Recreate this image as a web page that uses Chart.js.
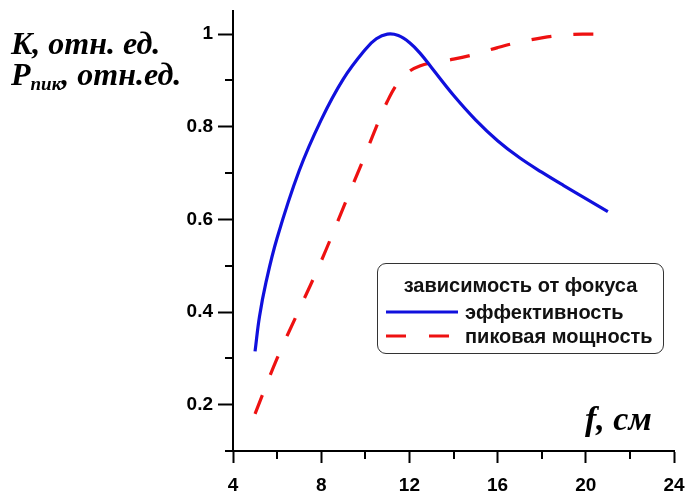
<!DOCTYPE html>
<html>
<head>
<meta charset="utf-8">
<script src="https://cdn.jsdelivr.net/npm/chart.js@4.4.1/dist/chart.umd.min.js"></script>
<style>
  html, body { margin: 0; padding: 0; background: #fff; }
  #wrap { position: relative; width: 687px; height: 492px; overflow: hidden; }
  #c { position: absolute; left: 0; top: 0; }
  .ytitle { position: absolute; left: 11px; font-family: "Liberation Serif", "Times New Roman", serif; font-weight: bold; font-style: italic; font-size: 32px; line-height: 1; color: #000; white-space: nowrap; }
  .ytitle sub { font-size: 19px; vertical-align: -5px; line-height: 0; }
  #xtitle { position: absolute; left: 585px; top: 402px; font-family: "Liberation Serif", "Times New Roman", serif; font-weight: bold; font-style: italic; font-size: 34px; line-height: 1; color: #000; white-space: nowrap; }
  #legend { position: absolute; left: 377px; top: 263px; width: 285px; height: 89px; border: 1.6px solid #333; border-radius: 9px; font-family: "Liberation Sans", Arial, sans-serif; font-weight: bold; font-size: 20px; color: #111; }
  #legend .t { position: absolute; left: 0; width: 100%; top: 10px; text-align: center; line-height: 22px; white-space: nowrap; }
  #legend .row { position: absolute; left: 0; height: 22px; line-height: 22px; white-space: nowrap; }
  #legend .row svg { position: absolute; left: 6px; top: 3px; }
  #legend .row span { position: absolute; left: 87px; top: 0; }
</style>
</head>
<body>
<div id="wrap">
  <canvas id="c" width="687" height="492"></canvas>
  <div class="ytitle" style="top:27px">K, отн. ед.</div>
  <div class="ytitle" style="top:58px">P<sub>пик</sub>, отн.ед.</div>
  <div id="xtitle">f, см</div>
  <div id="legend">
    <div class="t">зависимость от фокуса</div>
    <div class="row" style="top:37px"><svg width="80" height="16"><line x1="2" y1="8" x2="74" y2="8" stroke="#1010dd" stroke-width="3"/></svg><span>эффективность</span></div>
    <div class="row" style="top:61px"><svg width="80" height="16"><line x1="2" y1="8" x2="74" y2="8" stroke="#ee1111" stroke-width="3" stroke-dasharray="20,23"/></svg><span>пиковая мощность</span></div>
  </div>
</div>
<script>
// ---- data ----
const effF = [5, 5.2, 5.5, 6, 7, 8, 9, 10, 10.5, 11, 11.5, 12, 12.5, 13, 14, 15, 16, 17, 18, 19, 20, 21];
const effK = [0.315, 0.39, 0.465, 0.56, 0.705, 0.815, 0.903, 0.967, 0.99, 1.0, 0.997, 0.982, 0.958, 0.928, 0.868, 0.815, 0.77, 0.733, 0.702, 0.673, 0.645, 0.617];
const powF = [5, 6, 7, 8, 9, 10, 10.5, 11, 11.5, 12, 12.5, 13, 14, 15, 16, 17, 18, 19, 20, 21];
const powP = [0.18, 0.3, 0.405, 0.51, 0.625, 0.74, 0.80, 0.855, 0.896, 0.92, 0.932, 0.938, 0.946, 0.957, 0.971, 0.983, 0.992, 0.998, 1.0, 1.0];
const seriesNames = ["эффективность", "пиковая мощность"];
const xTicks = [4, 8, 12, 16, 20, 24];
const xMinorTicks = [6, 10, 14, 18, 22];
const yTicks = [0.2, 0.4, 0.6, 0.8, 1];
const yMinorTicks = [0.1, 0.3, 0.5, 0.7, 0.9];

const toXY = (xs, ys) => xs.map((x, i) => ({ x: x, y: ys[i] }));

const minorTicks = {
  id: 'minorTicks',
  afterDraw(chart) {
    const ctx = chart.ctx, xs = chart.scales.x, ys = chart.scales.y;
    const area = chart.chartArea;
    ctx.save();
    ctx.strokeStyle = '#000';
    ctx.lineWidth = 2;
    ctx.beginPath();
    xMinorTicks.forEach(v => {
      const px = Math.round(xs.getPixelForValue(v));
      ctx.moveTo(px, area.bottom);
      ctx.lineTo(px, area.bottom + 8);
    });
    yMinorTicks.forEach(v => {
      const py = Math.round(ys.getPixelForValue(v));
      ctx.moveTo(area.left - 8, py);
      ctx.lineTo(area.left, py);
    });
    ctx.stroke();
    ctx.restore();
  }
};

const tickFont = { family: '"Liberation Sans", Arial, sans-serif', size: 19, weight: 'bold' };

new Chart(document.getElementById('c'), {
  type: 'line',
  data: {
    datasets: [
      {
        label: seriesNames[0],
        data: toXY(effF, effK),
        borderColor: '#1010dd',
        borderWidth: 3.2,
        pointRadius: 0,
        fill: false,
        tension: 0.4
      },
      {
        label: seriesNames[1],
        data: toXY(powF, powP),
        borderColor: '#ee1111',
        borderWidth: 3.2,
        borderDash: [20, 22],
        pointRadius: 0,
        fill: false,
        tension: 0.4
      }
    ]
  },
  options: {
    responsive: false,
    devicePixelRatio: 1,
    animation: false,
    layout: { padding: { left: 0, right: 13, top: 11, bottom: 0 } },
    plugins: { legend: { display: false }, tooltip: { enabled: false } },
    scales: {
      x: {
        type: 'linear',
        min: 4, max: 24,
        afterBuildTicks: s => { s.ticks = xTicks.map(v => ({ value: v })); },
        afterFit: s => { s.height = 41; s.paddingLeft = 0; s.paddingRight = 0; },
        grid: { drawOnChartArea: false, drawTicks: true, tickLength: 12, tickColor: '#000', tickWidth: 2 },
        border: { display: true, color: '#000', width: 2 },
        ticks: { color: '#000', font: tickFont, padding: 11, maxRotation: 0, callback: v => String(v) }
      },
      y: {
        type: 'linear',
        min: 0.1, max: 1.05,
        afterBuildTicks: s => { s.ticks = yTicks.map(v => ({ value: v })); },
        afterFit: s => { s.width = 233; s.paddingTop = 0; s.paddingBottom = 0; },
        grid: { drawOnChartArea: false, drawTicks: true, tickLength: 15, tickColor: '#000', tickWidth: 2 },
        border: { display: true, color: '#000', width: 2 },
        ticks: { color: '#000', font: tickFont, padding: 5, callback: v => (v === 1 ? '1' : v.toFixed(1)) }
      }
    }
  },
  plugins: [minorTicks]
});
</script>
</body>
</html>
